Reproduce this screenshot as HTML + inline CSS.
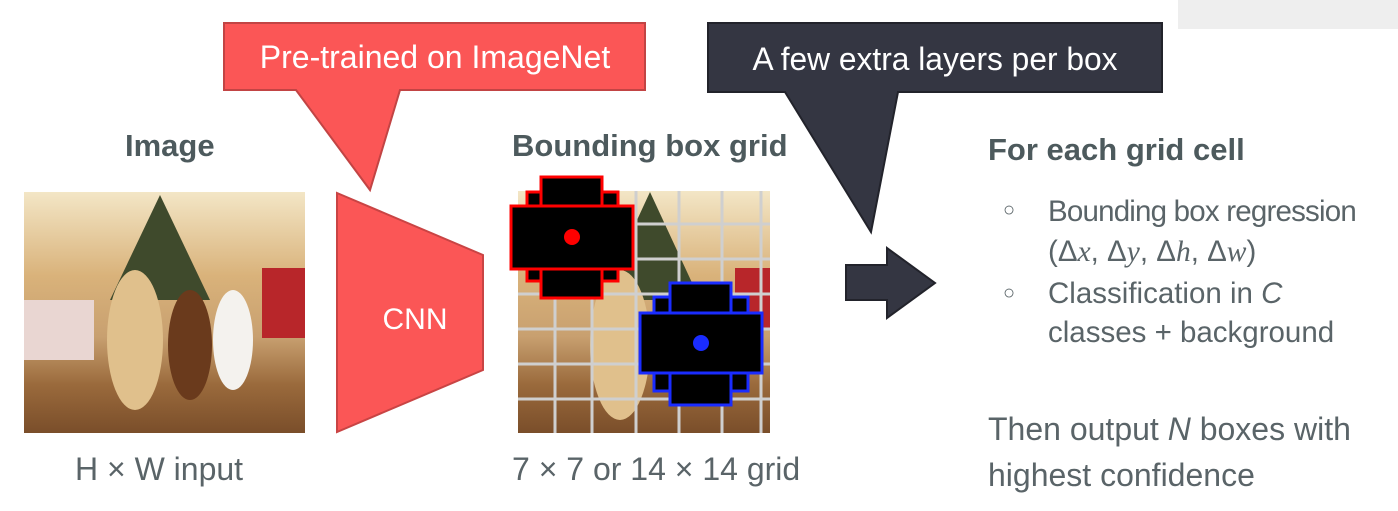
<!DOCTYPE html>
<html><head><meta charset="utf-8"><style>
body{margin:0;width:1398px;height:511px;background:#fff;position:relative;overflow:hidden;font-family:"Liberation Sans",sans-serif;}
.t{position:absolute;white-space:nowrap;color:#4f5b5e;}
.h{font-weight:bold;font-size:31px;color:#4d5a5d;}
.b{font-size:29.5px;color:#5a6468;}
.l{font-size:32px;color:#5a6468;}
</style></head><body>
<div style="position:absolute;left:1178px;top:0;width:220px;height:29px;background:#eeeeee"></div>
<svg width="1398" height="511" style="position:absolute;left:0;top:0">
<defs>
<linearGradient id="ph" x1="0" y1="0" x2="0" y2="1"><stop offset="0" stop-color="#f3e6c6"/><stop offset="0.35" stop-color="#d9b27a"/><stop offset="0.6" stop-color="#c8a070"/><stop offset="0.8" stop-color="#9a6a3c"/><stop offset="1" stop-color="#7a4e2a"/></linearGradient>
</defs>
<g>
<rect x="24" y="192" width="281" height="241" fill="url(#ph)"/>
<polygon points="160,195 110,300 210,300" fill="#3f4a2c"/>
<rect x="262" y="268" width="43" height="70" fill="#b8262a"/>
<rect x="24" y="300" width="70" height="60" fill="#e9d6d2"/>
<ellipse cx="135" cy="340" rx="28" ry="70" fill="#e0c08c"/>
<ellipse cx="190" cy="345" rx="22" ry="55" fill="#6a3a1c"/>
<ellipse cx="233" cy="340" rx="20" ry="50" fill="#f4f2ee"/>
</g>
<g>
<rect x="518" y="191" width="252" height="242" fill="url(#ph)"/>
<polygon points="650,192 600,300 700,300" fill="#3f4a2c"/>
<rect x="735" y="268" width="35" height="60" fill="#b8262a"/>
<ellipse cx="620" cy="345" rx="30" ry="75" fill="#e0c08c"/>
<g stroke="#cfcfcf" stroke-width="3">
<line x1="555" y1="191" x2="555" y2="433"/><line x1="592" y1="191" x2="592" y2="433"/><line x1="636" y1="191" x2="636" y2="433"/><line x1="679" y1="191" x2="679" y2="433"/><line x1="722" y1="191" x2="722" y2="433"/><line x1="761" y1="191" x2="761" y2="433"/>
<line x1="518" y1="224" x2="770" y2="224"/><line x1="518" y1="259" x2="770" y2="259"/><line x1="518" y1="294" x2="770" y2="294"/><line x1="518" y1="329" x2="770" y2="329"/><line x1="518" y1="364" x2="770" y2="364"/><line x1="518" y1="399" x2="770" y2="399"/>
</g>
</g>
<g fill="#000" stroke="#f00" stroke-width="3">
<rect x="527" y="192" width="91" height="89"/><rect x="541" y="177" width="61" height="121"/><rect x="511" y="206" width="122" height="63"/>
<circle cx="572" cy="237" r="8" fill="#f00" stroke="none"/>
</g>
<g fill="#000" stroke="#1a2cff" stroke-width="3">
<rect x="654" y="297" width="94" height="94"/><rect x="670" y="283" width="61" height="122"/><rect x="640" y="313" width="122" height="60"/>
<circle cx="701" cy="343" r="8" fill="#1a2cff" stroke="none"/>
</g>
<polygon points="337,193 483,255 483,370 337,432" fill="#fb5656" stroke="#c94444" stroke-width="2"/>
<text x="415" y="329" font-size="30" fill="#fff" text-anchor="middle" font-family="Liberation Sans">CNN</text>
<polygon points="224,23 645,23 645,90 400,90 370,190 296,90 224,90" fill="#fb5656" stroke="#c24444" stroke-width="2"/>
<text x="435" y="68" font-size="32" fill="#fff" text-anchor="middle" font-family="Liberation Sans">Pre-trained on ImageNet</text>
<polygon points="708,23 1162,23 1162,92 898,92 871,232 785,92 708,92" fill="#343642" stroke="#22232b" stroke-width="2"/>
<text x="935" y="70" font-size="32" fill="#fff" text-anchor="middle" font-family="Liberation Sans" textLength="365" lengthAdjust="spacingAndGlyphs">A few extra layers per box</text>
<polygon points="846,265 887,265 887,248 935,283 887,318 887,300 846,300" fill="#343642" stroke="#22232b" stroke-width="2"/>
</svg>
<div class="t h" style="left:125px;top:128px">Image</div>
<div class="t h" style="left:512px;top:128px">Bounding box grid</div>
<div class="t h" style="left:988px;top:132px">For each grid cell</div>
<div class="t l" style="left:75px;top:451px">H × W input</div>
<div class="t l" style="left:512px;top:451px">7 × 7 or 14 × 14 grid</div>
<div class="t b" style="left:1003px;top:199px;font-size:20px">○</div>
<div class="t b" style="left:1048px;top:195px;letter-spacing:-0.8px">Bounding box regression</div>
<div class="t b" style="left:1048px;top:235px">(Δ<i style="font-family:'Liberation Serif',serif">x</i>, Δ<i style="font-family:'Liberation Serif',serif">y</i>, Δ<i style="font-family:'Liberation Serif',serif">h</i>, Δ<i style="font-family:'Liberation Serif',serif">w</i>)</div>
<div class="t b" style="left:1003px;top:282px;font-size:20px">○</div>
<div class="t b" style="left:1048px;top:277px">Classification in <i>C</i></div>
<div class="t b" style="left:1048px;top:316px">classes + background</div>
<div class="t l" style="left:988px;top:411px">Then output <i>N</i> boxes with</div>
<div class="t l" style="left:988px;top:457px">highest confidence</div>
</body></html>
